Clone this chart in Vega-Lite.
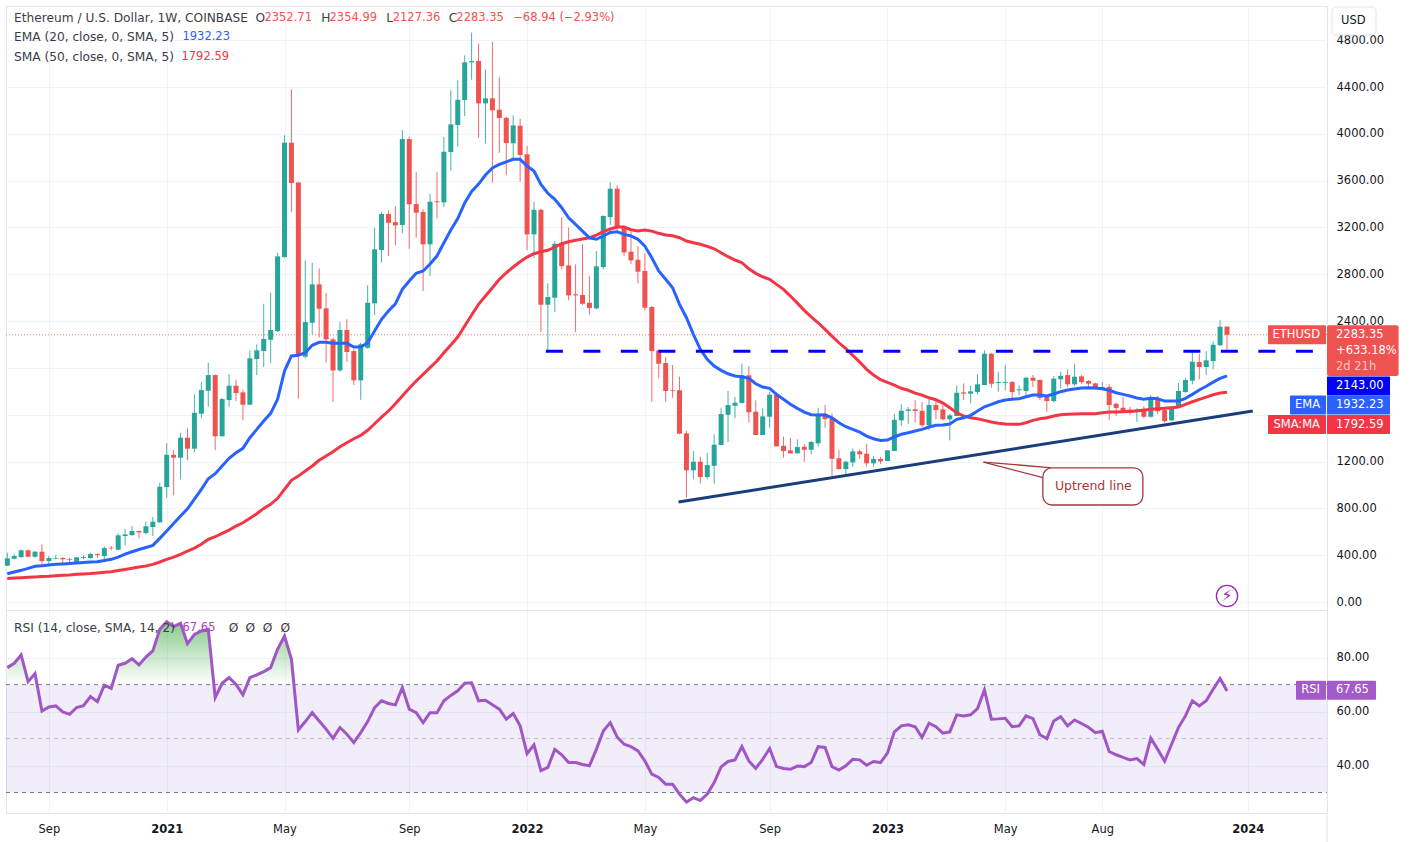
{"$schema":"https://vega.github.io/schema/vega-lite/v6.json","background":"white","padding":{"left":0,"top":5,"right":0,"bottom":0},"spacing":0,"bounds":"flush","config":{"font":"DejaVu Sans","concat":{"spacing":0}},
"datasets":{"weekly":[
{"d":"2020-07-27","o":310,"h":421,"l":308,"c":373,"e":242,"s":202,"r":76.3},
{"d":"2020-08-03","o":370,"h":408,"l":365,"c":393,"e":256,"s":205,"r":77.9},
{"d":"2020-08-10","o":384,"h":450,"l":378,"c":442,"e":271,"s":208,"r":81.0},
{"d":"2020-08-17","o":442,"h":450,"l":384,"c":387,"e":288,"s":211,"r":71.1},
{"d":"2020-08-24","o":387,"h":436,"l":378,"c":430,"e":305,"s":214,"r":74.1},
{"d":"2020-08-31","o":430,"h":493,"l":322,"c":350,"e":310,"s":218,"r":60.2},
{"d":"2020-09-07","o":350,"h":393,"l":322,"c":376,"e":316,"s":220,"r":61.7},
{"d":"2020-09-14","o":370,"h":402,"l":365,"c":376,"e":322,"s":225,"r":62.1},
{"d":"2020-09-21","o":376,"h":384,"l":322,"c":365,"e":325,"s":229,"r":59.9},
{"d":"2020-09-28","o":367,"h":378,"l":342,"c":361,"e":329,"s":232,"r":59.0},
{"d":"2020-10-05","o":342,"h":384,"l":336,"c":382,"e":333,"s":237,"r":61.5},
{"d":"2020-10-12","o":376,"h":399,"l":365,"c":384,"e":337,"s":240,"r":62.2},
{"d":"2020-10-19","o":376,"h":421,"l":370,"c":410,"e":342,"s":243,"r":65.6},
{"d":"2020-10-26","o":410,"h":416,"l":376,"c":402,"e":344,"s":248,"r":63.7},
{"d":"2020-11-02","o":393,"h":476,"l":370,"c":461,"e":355,"s":254,"r":69.8},
{"d":"2020-11-09","o":464,"h":478,"l":442,"c":459,"e":365,"s":259,"r":68.6},
{"d":"2020-11-16","o":447,"h":587,"l":442,"c":570,"e":384,"s":269,"r":77.2},
{"d":"2020-11-23","o":564,"h":626,"l":484,"c":578,"e":410,"s":278,"r":77.9},
{"d":"2020-11-30","o":572,"h":649,"l":564,"c":607,"e":430,"s":288,"r":79.6},
{"d":"2020-12-07","o":607,"h":609,"l":544,"c":595,"e":449,"s":299,"r":77.3},
{"d":"2020-12-14","o":589,"h":686,"l":578,"c":647,"e":466,"s":308,"r":80.2},
{"d":"2020-12-21","o":641,"h":726,"l":564,"c":686,"e":484,"s":322,"r":82.5},
{"d":"2020-12-28","o":681,"h":1019,"l":677,"c":985,"e":544,"s":342,"r":90.5},
{"d":"2021-01-04","o":982,"h":1356,"l":891,"c":1258,"e":607,"s":365,"r":93.3},
{"d":"2021-01-11","o":1258,"h":1299,"l":912,"c":1233,"e":671,"s":384,"r":91.5},
{"d":"2021-01-18","o":1233,"h":1444,"l":1048,"c":1404,"e":735,"s":408,"r":92.7},
{"d":"2021-01-25","o":1404,"h":1484,"l":1211,"c":1310,"e":797,"s":436,"r":85.2},
{"d":"2021-02-01","o":1310,"h":1774,"l":1281,"c":1617,"e":880,"s":461,"r":88.6},
{"d":"2021-02-08","o":1609,"h":1879,"l":1569,"c":1811,"e":963,"s":493,"r":89.9},
{"d":"2021-02-15","o":1805,"h":2044,"l":1668,"c":1939,"e":1053,"s":536,"r":90.5},
{"d":"2021-02-22","o":1939,"h":1945,"l":1299,"c":1416,"e":1096,"s":558,"r":65.2},
{"d":"2021-03-01","o":1416,"h":1743,"l":1416,"c":1734,"e":1162,"s":587,"r":70.5},
{"d":"2021-03-08","o":1726,"h":1948,"l":1668,"c":1848,"e":1228,"s":615,"r":72.6},
{"d":"2021-03-15","o":1848,"h":1899,"l":1717,"c":1785,"e":1275,"s":649,"r":70.1},
{"d":"2021-03-22","o":1791,"h":1814,"l":1552,"c":1686,"e":1313,"s":677,"r":66.2},
{"d":"2021-03-29","o":1686,"h":2150,"l":1680,"c":2082,"e":1404,"s":715,"r":72.6},
{"d":"2021-04-05","o":2076,"h":2202,"l":1939,"c":2150,"e":1475,"s":754,"r":73.6},
{"d":"2021-04-12","o":2144,"h":2548,"l":2008,"c":2247,"e":1546,"s":800,"r":74.8},
{"d":"2021-04-19","o":2241,"h":2642,"l":2044,"c":2324,"e":1612,"s":835,"r":76.3},
{"d":"2021-04-26","o":2315,"h":2984,"l":2307,"c":2953,"e":1732,"s":886,"r":83.1},
{"d":"2021-05-03","o":2947,"h":3987,"l":2940,"c":3924,"e":1973,"s":963,"r":88.0},
{"d":"2021-05-10","o":3924,"h":4380,"l":3334,"c":3580,"e":2102,"s":1040,"r":79.4},
{"d":"2021-05-17","o":3585,"h":3590,"l":1737,"c":2102,"e":2108,"s":1076,"r":53.2},
{"d":"2021-05-24","o":2096,"h":2919,"l":2082,"c":2392,"e":2130,"s":1119,"r":56.3},
{"d":"2021-05-31","o":2386,"h":2899,"l":2287,"c":2714,"e":2193,"s":1162,"r":59.6},
{"d":"2021-06-07","o":2714,"h":2851,"l":2258,"c":2506,"e":2219,"s":1211,"r":56.5},
{"d":"2021-06-14","o":2509,"h":2642,"l":2044,"c":2244,"e":2219,"s":1247,"r":53.5},
{"d":"2021-06-21","o":2244,"h":2258,"l":1709,"c":1979,"e":2210,"s":1284,"r":50.1},
{"d":"2021-06-28","o":1979,"h":2392,"l":1967,"c":2324,"e":2210,"s":1327,"r":54.1},
{"d":"2021-07-05","o":2324,"h":2415,"l":2053,"c":2136,"e":2210,"s":1361,"r":51.6},
{"d":"2021-07-12","o":2144,"h":2159,"l":1854,"c":1894,"e":2178,"s":1395,"r":48.5},
{"d":"2021-07-19","o":1894,"h":2215,"l":1728,"c":2202,"e":2178,"s":1424,"r":52.2},
{"d":"2021-07-26","o":2172,"h":2706,"l":2164,"c":2557,"e":2215,"s":1467,"r":56.3},
{"d":"2021-08-02","o":2552,"h":3198,"l":2452,"c":3013,"e":2315,"s":1523,"r":61.5},
{"d":"2021-08-09","o":3007,"h":3334,"l":2899,"c":3315,"e":2415,"s":1580,"r":64.0},
{"d":"2021-08-16","o":3315,"h":3346,"l":2956,"c":3240,"e":2486,"s":1632,"r":63.0},
{"d":"2021-08-23","o":3246,"h":3383,"l":3050,"c":3218,"e":2548,"s":1694,"r":62.5},
{"d":"2021-08-30","o":3221,"h":4032,"l":3150,"c":3955,"e":2671,"s":1760,"r":68.9},
{"d":"2021-09-06","o":3955,"h":3975,"l":3018,"c":3398,"e":2742,"s":1826,"r":60.9},
{"d":"2021-09-13","o":3400,"h":3673,"l":3112,"c":3326,"e":2808,"s":1888,"r":59.6},
{"d":"2021-09-20","o":3332,"h":3355,"l":2657,"c":3056,"e":2828,"s":1945,"r":55.9},
{"d":"2021-09-27","o":3056,"h":3488,"l":2785,"c":3420,"e":2888,"s":2002,"r":59.6},
{"d":"2021-10-04","o":3423,"h":3673,"l":3278,"c":3415,"e":2956,"s":2059,"r":59.6},
{"d":"2021-10-11","o":3415,"h":3975,"l":3374,"c":3847,"e":3070,"s":2130,"r":64.0},
{"d":"2021-10-18","o":3844,"h":4371,"l":3688,"c":4081,"e":3178,"s":2196,"r":66.0},
{"d":"2021-10-25","o":4075,"h":4457,"l":3890,"c":4291,"e":3276,"s":2264,"r":67.7},
{"d":"2021-11-01","o":4289,"h":4670,"l":4152,"c":4611,"e":3409,"s":2358,"r":70.5},
{"d":"2021-11-08","o":4611,"h":4864,"l":4462,"c":4622,"e":3507,"s":2452,"r":70.7},
{"d":"2021-11-15","o":4622,"h":4770,"l":3967,"c":4260,"e":3571,"s":2543,"r":64.0},
{"d":"2021-11-22","o":4260,"h":4551,"l":3919,"c":4303,"e":3648,"s":2614,"r":64.2},
{"d":"2021-11-29","o":4303,"h":4787,"l":3582,"c":4201,"e":3708,"s":2685,"r":62.5},
{"d":"2021-12-06","o":4206,"h":4485,"l":3838,"c":4135,"e":3739,"s":2757,"r":60.9},
{"d":"2021-12-13","o":4137,"h":4146,"l":3648,"c":3921,"e":3761,"s":2813,"r":57.2},
{"d":"2021-12-20","o":3919,"h":4158,"l":3782,"c":4072,"e":3782,"s":2862,"r":59.3},
{"d":"2021-12-27","o":4069,"h":4129,"l":3591,"c":3819,"e":3782,"s":2907,"r":54.7},
{"d":"2022-01-03","o":3825,"h":3896,"l":3005,"c":3141,"e":3725,"s":2947,"r":44.4},
{"d":"2022-01-10","o":3141,"h":3420,"l":2941,"c":3351,"e":3682,"s":2976,"r":47.7},
{"d":"2022-01-17","o":3351,"h":3360,"l":2307,"c":2540,"e":3568,"s":2993,"r":38.1},
{"d":"2022-01-24","o":2540,"h":2723,"l":2150,"c":2606,"e":3492,"s":3005,"r":39.3},
{"d":"2022-01-31","o":2600,"h":3084,"l":2477,"c":3061,"e":3440,"s":3033,"r":46.0},
{"d":"2022-02-07","o":3061,"h":3287,"l":2842,"c":2870,"e":3369,"s":3061,"r":44.0},
{"d":"2022-02-14","o":2876,"h":3198,"l":2577,"c":2620,"e":3283,"s":3078,"r":41.1},
{"d":"2022-02-21","o":2629,"h":2885,"l":2307,"c":2620,"e":3227,"s":3090,"r":41.1},
{"d":"2022-02-28","o":2623,"h":3056,"l":2537,"c":2548,"e":3169,"s":3101,"r":40.4},
{"d":"2022-03-07","o":2557,"h":2785,"l":2452,"c":2512,"e":3112,"s":3112,"r":39.9},
{"d":"2022-03-14","o":2509,"h":2999,"l":2500,"c":2868,"e":3099,"s":3135,"r":46.0},
{"d":"2022-03-21","o":2862,"h":3304,"l":2842,"c":3298,"e":3127,"s":3164,"r":52.8},
{"d":"2022-03-28","o":3289,"h":3588,"l":3221,"c":3531,"e":3158,"s":3187,"r":55.9},
{"d":"2022-04-04","o":3531,"h":3560,"l":3155,"c":3198,"e":3164,"s":3204,"r":50.6},
{"d":"2022-04-11","o":3204,"h":3212,"l":2956,"c":2987,"e":3141,"s":3204,"r":47.9},
{"d":"2022-04-18","o":2993,"h":3169,"l":2890,"c":2919,"e":3127,"s":3181,"r":47.0},
{"d":"2022-04-25","o":2924,"h":3041,"l":2723,"c":2822,"e":3099,"s":3169,"r":45.4},
{"d":"2022-05-02","o":2828,"h":2976,"l":2492,"c":2514,"e":3041,"s":3178,"r":41.7},
{"d":"2022-05-09","o":2520,"h":2529,"l":1709,"c":2144,"e":2941,"s":3169,"r":36.8},
{"d":"2022-05-16","o":2150,"h":2155,"l":1911,"c":2036,"e":2828,"s":3150,"r":35.6},
{"d":"2022-05-23","o":2042,"h":2093,"l":1709,"c":1803,"e":2757,"s":3135,"r":33.1},
{"d":"2022-05-30","o":1809,"h":2025,"l":1745,"c":1803,"e":2685,"s":3129,"r":33.1},
{"d":"2022-06-06","o":1809,"h":1925,"l":1433,"c":1438,"e":2543,"s":3112,"r":29.4},
{"d":"2022-06-13","o":1441,"h":1461,"l":891,"c":1125,"e":2429,"s":3084,"r":26.5},
{"d":"2022-06-20","o":1125,"h":1290,"l":1048,"c":1199,"e":2287,"s":3070,"r":28.1},
{"d":"2022-06-27","o":1199,"h":1241,"l":1011,"c":1068,"e":2159,"s":3056,"r":27.0},
{"d":"2022-07-04","o":1068,"h":1275,"l":1048,"c":1170,"e":2073,"s":3039,"r":29.4},
{"d":"2022-07-11","o":1164,"h":1433,"l":1011,"c":1344,"e":2016,"s":3018,"r":33.7},
{"d":"2022-07-18","o":1341,"h":1660,"l":1341,"c":1606,"e":1979,"s":2984,"r":39.5},
{"d":"2022-07-25","o":1600,"h":1803,"l":1367,"c":1683,"e":1950,"s":2950,"r":41.5},
{"d":"2022-08-01","o":1677,"h":1751,"l":1569,"c":1703,"e":1931,"s":2922,"r":42.1},
{"d":"2022-08-08","o":1700,"h":2036,"l":1695,"c":1937,"e":1925,"s":2899,"r":47.0},
{"d":"2022-08-15","o":1937,"h":2014,"l":1532,"c":1621,"e":1911,"s":2847,"r":41.7},
{"d":"2022-08-22","o":1626,"h":1723,"l":1427,"c":1427,"e":1865,"s":2808,"r":38.9},
{"d":"2022-08-29","o":1427,"h":1655,"l":1427,"c":1586,"e":1837,"s":2779,"r":42.3},
{"d":"2022-09-05","o":1583,"h":1797,"l":1489,"c":1771,"e":1826,"s":2757,"r":46.3},
{"d":"2022-09-12","o":1771,"h":1788,"l":1330,"c":1330,"e":1774,"s":2714,"r":39.6},
{"d":"2022-09-19","o":1335,"h":1412,"l":1233,"c":1290,"e":1732,"s":2671,"r":38.9},
{"d":"2022-09-26","o":1296,"h":1404,"l":1270,"c":1270,"e":1689,"s":2614,"r":38.6},
{"d":"2022-10-03","o":1270,"h":1390,"l":1270,"c":1324,"e":1655,"s":2554,"r":39.8},
{"d":"2022-10-10","o":1327,"h":1352,"l":1199,"c":1301,"e":1623,"s":2492,"r":39.6},
{"d":"2022-10-17","o":1301,"h":1375,"l":1262,"c":1367,"e":1600,"s":2437,"r":41.1},
{"d":"2022-10-24","o":1356,"h":1660,"l":1330,"c":1604,"e":1598,"s":2386,"r":47.0},
{"d":"2022-10-31","o":1604,"h":1683,"l":1489,"c":1563,"e":1600,"s":2330,"r":46.7},
{"d":"2022-11-07","o":1569,"h":1612,"l":1076,"c":1224,"e":1574,"s":2272,"r":39.6},
{"d":"2022-11-14","o":1228,"h":1299,"l":1134,"c":1136,"e":1532,"s":2215,"r":38.3},
{"d":"2022-11-21","o":1136,"h":1205,"l":1091,"c":1199,"e":1498,"s":2164,"r":39.9},
{"d":"2022-11-28","o":1193,"h":1313,"l":1156,"c":1287,"e":1475,"s":2108,"r":42.3},
{"d":"2022-12-05","o":1287,"h":1305,"l":1224,"c":1262,"e":1452,"s":2050,"r":42.1},
{"d":"2022-12-12","o":1267,"h":1352,"l":1156,"c":1185,"e":1418,"s":1988,"r":40.1},
{"d":"2022-12-19","o":1185,"h":1247,"l":1156,"c":1222,"e":1395,"s":1939,"r":41.5},
{"d":"2022-12-26","o":1222,"h":1241,"l":1181,"c":1202,"e":1381,"s":1899,"r":41.1},
{"d":"2023-01-02","o":1205,"h":1296,"l":1205,"c":1296,"e":1384,"s":1877,"r":44.6},
{"d":"2023-01-09","o":1290,"h":1609,"l":1290,"c":1557,"e":1410,"s":1854,"r":52.5},
{"d":"2023-01-16","o":1552,"h":1689,"l":1504,"c":1634,"e":1433,"s":1826,"r":54.7},
{"d":"2023-01-23","o":1634,"h":1666,"l":1523,"c":1646,"e":1446,"s":1809,"r":55.1},
{"d":"2023-01-30","o":1646,"h":1723,"l":1532,"c":1632,"e":1461,"s":1785,"r":54.4},
{"d":"2023-02-06","o":1634,"h":1709,"l":1495,"c":1510,"e":1475,"s":1768,"r":50.4},
{"d":"2023-02-13","o":1510,"h":1737,"l":1467,"c":1683,"e":1495,"s":1745,"r":55.7},
{"d":"2023-02-20","o":1683,"h":1717,"l":1561,"c":1640,"e":1510,"s":1728,"r":54.4},
{"d":"2023-02-27","o":1646,"h":1680,"l":1552,"c":1561,"e":1512,"s":1700,"r":52.0},
{"d":"2023-03-06","o":1561,"h":1609,"l":1381,"c":1595,"e":1521,"s":1660,"r":52.5},
{"d":"2023-03-13","o":1589,"h":1851,"l":1589,"c":1788,"e":1561,"s":1617,"r":58.8},
{"d":"2023-03-20","o":1791,"h":1868,"l":1726,"c":1780,"e":1574,"s":1589,"r":58.4},
{"d":"2023-03-27","o":1780,"h":1848,"l":1698,"c":1800,"e":1595,"s":1574,"r":58.8},
{"d":"2023-04-03","o":1794,"h":1945,"l":1774,"c":1860,"e":1632,"s":1566,"r":61.1},
{"d":"2023-04-10","o":1854,"h":2150,"l":1854,"c":2121,"e":1668,"s":1552,"r":68.0},
{"d":"2023-04-17","o":2121,"h":2130,"l":1831,"c":1865,"e":1689,"s":1538,"r":57.2},
{"d":"2023-04-24","o":1871,"h":1967,"l":1797,"c":1879,"e":1711,"s":1527,"r":57.3},
{"d":"2023-05-01","o":1871,"h":2025,"l":1809,"c":1879,"e":1726,"s":1521,"r":57.5},
{"d":"2023-05-08","o":1879,"h":1888,"l":1740,"c":1794,"e":1732,"s":1518,"r":54.4},
{"d":"2023-05-15","o":1809,"h":1851,"l":1768,"c":1817,"e":1737,"s":1518,"r":54.7},
{"d":"2023-05-22","o":1803,"h":1925,"l":1760,"c":1916,"e":1754,"s":1532,"r":58.4},
{"d":"2023-05-29","o":1916,"h":1939,"l":1837,"c":1891,"e":1768,"s":1552,"r":57.4},
{"d":"2023-06-05","o":1897,"h":1902,"l":1726,"c":1743,"e":1768,"s":1566,"r":51.4},
{"d":"2023-06-12","o":1754,"h":1774,"l":1626,"c":1717,"e":1760,"s":1574,"r":50.0},
{"d":"2023-06-19","o":1717,"h":1931,"l":1703,"c":1908,"e":1777,"s":1589,"r":56.5},
{"d":"2023-06-26","o":1903,"h":1967,"l":1826,"c":1933,"e":1797,"s":1600,"r":58.1},
{"d":"2023-07-03","o":1939,"h":1988,"l":1837,"c":1860,"e":1811,"s":1604,"r":54.7},
{"d":"2023-07-10","o":1860,"h":2036,"l":1845,"c":1925,"e":1820,"s":1606,"r":56.9},
{"d":"2023-07-17","o":1928,"h":1939,"l":1865,"c":1879,"e":1828,"s":1609,"r":55.6},
{"d":"2023-07-24","o":1888,"h":1897,"l":1837,"c":1865,"e":1831,"s":1609,"r":54.2},
{"d":"2023-07-31","o":1868,"h":1873,"l":1817,"c":1822,"e":1828,"s":1609,"r":52.2},
{"d":"2023-08-07","o":1820,"h":1879,"l":1809,"c":1837,"e":1822,"s":1617,"r":52.7},
{"d":"2023-08-14","o":1839,"h":1860,"l":1552,"c":1683,"e":1809,"s":1623,"r":45.2},
{"d":"2023-08-21","o":1694,"h":1702,"l":1589,"c":1657,"e":1788,"s":1623,"r":44.0},
{"d":"2023-08-28","o":1660,"h":1751,"l":1617,"c":1629,"e":1774,"s":1626,"r":43.0},
{"d":"2023-09-04","o":1643,"h":1668,"l":1598,"c":1617,"e":1760,"s":1629,"r":42.1},
{"d":"2023-09-11","o":1640,"h":1655,"l":1540,"c":1646,"e":1743,"s":1632,"r":42.6},
{"d":"2023-09-18","o":1646,"h":1674,"l":1569,"c":1583,"e":1732,"s":1640,"r":40.4},
{"d":"2023-09-25","o":1583,"h":1766,"l":1574,"c":1745,"e":1740,"s":1646,"r":50.1},
{"d":"2023-10-02","o":1740,"h":1760,"l":1604,"c":1629,"e":1737,"s":1651,"r":46.0},
{"d":"2023-10-09","o":1640,"h":1660,"l":1532,"c":1546,"e":1717,"s":1655,"r":41.6},
{"d":"2023-10-16","o":1552,"h":1674,"l":1552,"c":1668,"e":1717,"s":1660,"r":47.9},
{"d":"2023-10-23","o":1663,"h":1873,"l":1660,"c":1803,"e":1717,"s":1666,"r":54.1},
{"d":"2023-10-30","o":1794,"h":1911,"l":1788,"c":1897,"e":1740,"s":1689,"r":58.4},
{"d":"2023-11-06","o":1891,"h":2144,"l":1860,"c":2053,"e":1774,"s":1711,"r":64.0},
{"d":"2023-11-13","o":2050,"h":2121,"l":1903,"c":2008,"e":1811,"s":1732,"r":62.1},
{"d":"2023-11-20","o":2008,"h":2144,"l":1939,"c":2065,"e":1843,"s":1751,"r":64.0},
{"d":"2023-11-27","o":2059,"h":2224,"l":1988,"c":2198,"e":1879,"s":1771,"r":68.3},
{"d":"2023-12-04","o":2193,"h":2407,"l":2190,"c":2352,"e":1911,"s":1785,"r":72.3},
{"d":"2023-12-11","o":2352.71,"h":2354.99,"l":2127.36,"c":2283.35,"e":1932.23,"s":1792.59,"r":67.65}
]},
"vconcat":[
{"width":1321,"height":604,"view":{"stroke":"#e0e3eb"},
"encoding":{"x":{"field":"d","type":"temporal","title":null,"scale":{"type":"utc","domain":["2020-07-25T16:30:00Z","2024-03-21T00:00:00Z"],"nice":false,"padding":0},"axis":{"orient":"bottom","labels":false,"ticks":false,"domain":false,"grid":true,"gridColor":"#f0f3fa","title":null,"values":["2020-09-07","2021-01-04","2021-05-03","2021-09-06","2022-01-03","2022-05-02","2022-09-05","2023-01-02","2023-05-01","2023-08-07","2024-01-01"]}}},
"layer":[
{"data":{"values":[{"d":"2020-07-25T16:30:00Z","d2":"2024-03-21T00:00:00Z","p":2283.35}]},"mark":{"type":"rule","color":"#ef5350","strokeDash":[1,2],"strokeWidth":1,"opacity":0.8},"encoding":{"x2":{"field":"d2"},"y":{"field":"p","type":"quantitative","title":null,"scale":{"domain":[-68,5092],"nice":false,"zero":false,"padding":0},"axis":{"orient":"right","values":[0,400,800,1200,1600,2000,2400,2800,3200,3600,4000,4400,4800],"labelExpr":"datum.value==1600||datum.value==2000 ? '' : format(datum.value,'.2f')","ticks":false,"domain":false,"grid":true,"gridColor":"#f0f3fa","labelColor":"#131722","labelFont":"DejaVu Sans","labelFontSize":11.5,"labelPadding":9,"labelBound":false,"labelOverlap":false,"title":null}}}},
{"data":{"name":"weekly"},"mark":{"type":"rule","strokeWidth":1,"opacity":0.85},"encoding":{"y":{"field":"l","type":"quantitative","title":null},"y2":{"field":"h"},"color":{"condition":{"test":"datum.c>=datum.o","value":"#26a69a"},"value":"#ef5350"}}},
{"data":{"name":"weekly"},"mark":{"type":"bar","size":5},"encoding":{"y":{"field":"o","type":"quantitative","title":null},"y2":{"field":"c"},"color":{"condition":{"test":"datum.c>=datum.o","value":"#26a69a"},"value":"#ef5350"}}},
{"data":{"name":"weekly"},"mark":{"type":"line","color":"#f23645","strokeWidth":3},"encoding":{"y":{"field":"s","type":"quantitative","title":null}}},
{"data":{"name":"weekly"},"mark":{"type":"line","color":"#2962ff","strokeWidth":3},"encoding":{"y":{"field":"e","type":"quantitative","title":null}}},
{"data":{"values":[{"d":"2022-01-22","d2":"2024-03-21T00:00:00Z","p":2143}]},"mark":{"type":"rule","color":"#0000ff","strokeWidth":3,"strokeDash":[17,20.5]},"encoding":{"x2":{"field":"d2"},"y":{"field":"p","type":"quantitative","title":null}}},
{"data":{"values":[{"d":"2022-06-05","d2":"2024-01-06","p":854,"p2":1632}]},"mark":{"type":"rule","color":"#1a3d7c","strokeWidth":3},"encoding":{"x2":{"field":"d2"},"y":{"field":"p","type":"quantitative","title":null},"y2":{"field":"p2"}}},
{"data":{"values":[{"d":"2023-04-09","d2":"2023-06-08","p":1196,"p2":1062},{"d":"2023-04-09","d2":"2023-06-17","p":1196,"p2":1147}]},"mark":{"type":"rule","color":"#a03b3b","strokeWidth":1.3},"encoding":{"x2":{"field":"d2"},"y":{"field":"p","type":"quantitative","title":null},"y2":{"field":"p2"}}},
{"data":{"values":[{"d":"2023-06-08","d2":"2023-09-17","p":1147,"p2":829}]},"mark":{"type":"rect","fill":"white","stroke":"#a03b3b","strokeWidth":1.3,"cornerRadius":9},"encoding":{"x2":{"field":"d2"},"y":{"field":"p","type":"quantitative","title":null},"y2":{"field":"p2"}}},
{"data":{"values":[{"d":"2023-07-29","p":991,"t":"Uptrend line"}]},"mark":{"type":"text","color":"#a03b3b","fontSize":12.5,"align":"center","baseline":"middle"},"encoding":{"y":{"field":"p","type":"quantitative","title":null},"text":{"field":"t"}}},
{"data":{"values":[{"d":"2023-12-11","p":51}]},"mark":{"type":"point","shape":"circle","size":452,"filled":false,"fill":"white","fillOpacity":1,"stroke":"#9c27b0","strokeWidth":1.3},"encoding":{"y":{"field":"p","type":"quantitative","title":null}}},
{"data":{"values":[{"d":"2023-12-11","p":51,"t":"⚡"}]},"mark":{"type":"text","color":"#9c27b0","fontSize":16,"align":"center","baseline":"middle","font":"DejaVu Sans"},"encoding":{"y":{"field":"p","type":"quantitative","title":null},"text":{"field":"t"}}},
{"data":{"values":[{"d":"2024-03-21","p":2147}]},"mark":{"type":"rect","color":"#ef5350","width":71.6,"height":50.7,"xOffset":35.8,"cornerRadius":2},"encoding":{"y":{"field":"p","type":"quantitative","title":null}}},
{"data":{"values":[{"d":"2024-03-21","p":1845,"series":"level"},{"d":"2024-03-21","p":1683,"series":"EMA"},{"d":"2024-03-21","p":1516,"series":"SMA"}]},"mark":{"type":"rect","width":63,"height":19,"xOffset":31.5,"cornerRadius":1},"encoding":{"y":{"field":"p","type":"quantitative","title":null},"color":{"field":"series","type":"nominal","legend":null,"scale":{"domain":["level","EMA","SMA","price"],"range":["#0000ff","#2962ff","#f23645","#ef5350"]}}}},
{"data":{"values":[{"d":"2024-03-21","p":2283,"series":"price"},{"d":"2024-03-21","p":1516,"series":"SMA"}]},"mark":{"type":"rect","width":58,"height":19,"xOffset":-30,"cornerRadius":1},"encoding":{"y":{"field":"p","type":"quantitative","title":null},"color":{"field":"series","type":"nominal","legend":null,"scale":{"domain":["level","EMA","SMA","price"],"range":["#0000ff","#2962ff","#f23645","#ef5350"]}}}},
{"data":{"values":[{"d":"2024-03-21","p":1683,"series":"EMA"}]},"mark":{"type":"rect","width":36,"height":19,"xOffset":-19,"cornerRadius":1},"encoding":{"y":{"field":"p","type":"quantitative","title":null},"color":{"field":"series","type":"nominal","legend":null,"scale":{"domain":["level","EMA","SMA","price"],"range":["#0000ff","#2962ff","#f23645","#ef5350"]}}}},
{"data":{"values":[{"d":"2024-03-21","p":2281,"t":"2283.35"},{"d":"2024-03-21","p":2144,"t":"+633.18%"},{"d":"2024-03-21","p":2008,"t":"2d 21h"},{"d":"2024-03-21","p":1845,"t":"2143.00"},{"d":"2024-03-21","p":1683,"t":"1932.23"},{"d":"2024-03-21","p":1516,"t":"1792.59"}]},"mark":{"type":"text","fontSize":11.5,"align":"left","baseline":"middle","xOffset":9},"encoding":{"y":{"field":"p","type":"quantitative","title":null},"text":{"field":"t"},"color":{"condition":{"test":"datum.t=='2d 21h'","value":"#fbc4c3"},"value":"white"}}},
{"data":{"values":[{"d":"2024-03-21","p":2283,"t":"ETHUSD"},{"d":"2024-03-21","p":1683,"t":"EMA"},{"d":"2024-03-21","p":1516,"t":"SMA:MA"}]},"mark":{"type":"text","color":"white","fontSize":11.5,"align":"right","baseline":"middle","xOffset":-7},"encoding":{"y":{"field":"p","type":"quantitative","title":null},"text":{"field":"t"}}},
{"data":{"values":[{"d":"2024-03-21","p":4964}]},"mark":{"type":"rect","fill":"white","stroke":"#e0e3eb","width":44,"height":28,"xOffset":27,"cornerRadius":4},"encoding":{"y":{"field":"p","type":"quantitative","title":null}}},
{"data":{"values":[{"d":"2024-03-21","p":4964,"t":"USD"}]},"mark":{"type":"text","color":"#131722","fontSize":11.5,"align":"left","baseline":"middle","xOffset":14},"encoding":{"y":{"field":"p","type":"quantitative","title":null},"text":{"field":"t"}}},
{"data":{"values":[
{"d":"2020-08-02T18:00:00Z","p":4989,"t":"Ethereum / U.S. Dollar, 1W, COINBASE","k":"label"},
{"d":"2021-04-03T19:00:00Z","p":4989,"t":"O","k":"label"},
{"d":"2021-04-12T17:00:00Z","p":4989,"t":"2352.71","k":"down"},
{"d":"2021-06-09T00:00:00Z","p":4989,"t":"H","k":"label"},
{"d":"2021-06-17T12:00:00Z","p":4989,"t":"2354.99","k":"down"},
{"d":"2021-08-13T17:00:00Z","p":4989,"t":"L","k":"label"},
{"d":"2021-08-20T07:00:00Z","p":4989,"t":"2127.36","k":"down"},
{"d":"2021-10-15T19:00:00Z","p":4989,"t":"C","k":"label"},
{"d":"2021-10-23T14:00:00Z","p":4989,"t":"2283.35","k":"down"},
{"d":"2021-12-20T00:00:00Z","p":4989,"t":"−68.94 (−2.93%)","k":"down"},
{"d":"2020-08-02T18:00:00Z","p":4827,"t":"EMA (20, close, 0, SMA, 5)","k":"label"},
{"d":"2021-01-19T22:00:00Z","p":4827,"t":"1932.23","k":"ema"},
{"d":"2020-08-02T18:00:00Z","p":4656,"t":"SMA (50, close, 0, SMA, 5)","k":"label"},
{"d":"2021-01-18T22:00:00Z","p":4656,"t":"1792.59","k":"sma"}
]},"mark":{"type":"text","align":"left","baseline":"middle"},"encoding":{"y":{"field":"p","type":"quantitative","title":null},"text":{"field":"t"},"size":{"condition":{"test":"datum.k=='label'","value":12.2},"value":11.5},"color":{"field":"k","type":"nominal","legend":null,"scale":{"domain":["label","down","ema","sma"],"range":["#3b3e47","#ef5350","#2962ff","#f23645"]}}}}
],"resolve":{"scale":{"color":"independent"}}},
{"width":1321,"height":203,"view":{"stroke":"#e0e3eb"},
"encoding":{"x":{"field":"d","type":"temporal","title":null,"scale":{"type":"utc","domain":["2020-07-25T16:30:00Z","2024-03-21T00:00:00Z"],"nice":false,"padding":0},"axis":{"orient":"bottom","ticks":false,"domain":false,"grid":true,"gridColor":"#f0f3fa","title":null,"labelColor":"#131722","labelFontSize":11.5,"labelPadding":10,"labelOverlap":false,"labelBound":false,"labelFlush":false,"labelExpr":"utcFormat(datum.value,'%m')=='01' ? utcFormat(datum.value,'%Y') : utcFormat(datum.value,'%b')","labelFontWeight":{"condition":{"test":"utcFormat(datum.value,'%m')=='01'","value":600},"value":400},"values":["2020-09-07","2021-01-04","2021-05-03","2021-09-06","2022-01-03","2022-05-02","2022-09-05","2023-01-02","2023-05-01","2023-08-07","2024-01-01"]}}},
"layer":[
{"data":{"values":[{"d":"2020-07-25T16:30:00Z","d2":"2024-03-21T00:00:00Z","hi":70,"lo":30}]},"mark":{"type":"rect","color":"#7e57c2","opacity":0.1},"encoding":{"x2":{"field":"d2"},"y":{"field":"hi","type":"quantitative","title":null,"scale":{"domain":[22.4,97.67],"nice":false,"zero":false,"padding":0},"axis":{"orient":"right","values":[40,60,80],"format":".2f","ticks":false,"domain":false,"grid":true,"gridColor":"#f0f3fa","labelColor":"#131722","labelFont":"DejaVu Sans","labelFontSize":11.5,"labelPadding":9,"labelBound":false,"title":null}},"y2":{"field":"lo"}}},
{"data":{"name":"weekly"},"transform":[{"calculate":"max(datum.r,70)","as":"overbought"},{"calculate":"70","as":"base"}],"mark":{"type":"area","opacity":1,"color":{"gradient":"linear","x1":1,"y1":1,"x2":1,"y2":0,"stops":[{"offset":0,"color":"rgba(76,175,80,0)"},{"offset":1,"color":"rgba(76,175,80,0.65)"}]}},"encoding":{"y":{"field":"overbought","type":"quantitative","title":null},"y2":{"field":"base"}}},
{"data":{"values":[{"d":"2020-07-25T16:30:00Z","d2":"2024-03-21T00:00:00Z","r":70},{"d":"2020-07-25T16:30:00Z","d2":"2024-03-21T00:00:00Z","r":50},{"d":"2020-07-25T16:30:00Z","d2":"2024-03-21T00:00:00Z","r":30}]},"mark":{"type":"rule","color":"#787b86","strokeWidth":1,"strokeDash":[4,4]},"encoding":{"x2":{"field":"d2"},"y":{"field":"r","type":"quantitative","title":null},"opacity":{"condition":{"test":"datum.r==50","value":0.4},"value":1}}},
{"data":{"name":"weekly"},"mark":{"type":"line","color":"#a056c4","strokeWidth":3},"encoding":{"y":{"field":"r","type":"quantitative","title":null}}},
{"data":{"values":[{"d":"2024-03-21","d2":"2024-03-21","r":22.4,"r2":11.3}]},"mark":{"type":"rule","color":"#e0e3eb"},"encoding":{"x2":{"field":"d2"},"y":{"field":"r","type":"quantitative","title":null},"y2":{"field":"r2"}}},
{"data":{"values":[{"d":"2024-03-21","r":67.9}]},"mark":{"type":"rect","color":"#a25bc9","width":30,"height":19,"xOffset":-16,"cornerRadius":1},"encoding":{"y":{"field":"r","type":"quantitative","title":null}}},
{"data":{"values":[{"d":"2024-03-21","r":67.9}]},"mark":{"type":"rect","color":"#a25bc9","width":49,"height":19,"xOffset":24.5,"cornerRadius":1},"encoding":{"y":{"field":"r","type":"quantitative","title":null}}},
{"data":{"values":[{"d":"2024-03-21","r":67.9,"t":"67.65"}]},"mark":{"type":"text","color":"white","fontSize":11.5,"align":"left","baseline":"middle","xOffset":9},"encoding":{"y":{"field":"r","type":"quantitative","title":null},"text":{"field":"t"}}},
{"data":{"values":[{"d":"2024-03-21","r":67.9,"t":"RSI"}]},"mark":{"type":"text","color":"white","fontSize":11.5,"align":"right","baseline":"middle","xOffset":-7},"encoding":{"y":{"field":"r","type":"quantitative","title":null},"text":{"field":"t"}}},
{"data":{"values":[
{"d":"2020-08-02T18:00:00Z","r":91,"t":"RSI (14, close, SMA, 14, 2)","k":"label"},
{"d":"2021-01-20T00:00:00Z","r":91,"t":"67.65","k":"rsi"},
{"d":"2021-03-07T14:00:00Z","r":91,"t":"Ø","k":"label"},
{"d":"2021-03-24T17:00:00Z","r":91,"t":"Ø","k":"label"},
{"d":"2021-04-10T22:00:00Z","r":91,"t":"Ø","k":"label"},
{"d":"2021-04-29T00:00:00Z","r":91,"t":"Ø","k":"label"}
]},"mark":{"type":"text","align":"left","baseline":"middle"},"encoding":{"y":{"field":"r","type":"quantitative","title":null},"text":{"field":"t"},"size":{"condition":{"test":"datum.t!='67.65'","value":12.2},"value":11.5},"color":{"field":"k","type":"nominal","legend":null,"scale":{"domain":["label","rsi"],"range":["#3b3e47","#ab47bc"]}}}}
]}
]}
